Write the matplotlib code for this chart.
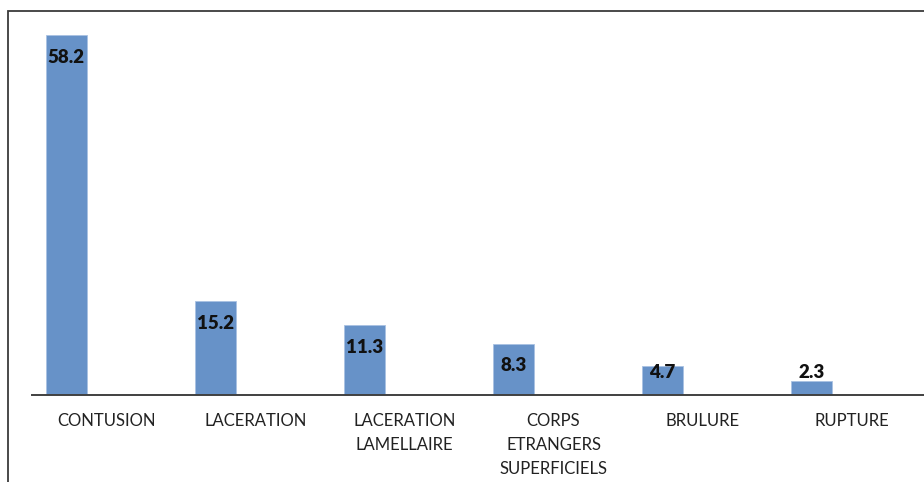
import matplotlib.pyplot as plt
from matplotlib.patches import Rectangle

categories = ["CONTUSION", "LACERATION", "LACERATION\nLAMELLAIRE",
              "CORPS\nETRANGERS\nSUPERFICIELS", "BRULURE", "RUPTURE"]
values = [58.2, 15.2, 11.3, 8.3, 4.7, 2.3]

W, H = 924, 482
fig = plt.figure(figsize=(W / 100, H / 100), dpi=100)

# outer frame (only left and top edges are visible in the crop)
fig.patches.append(Rectangle((8 / W, -0.1), 1.2, 1 - 11 / H + 0.1,
                             transform=fig.transFigure, fill=False,
                             edgecolor="#3a3a3a", linewidth=1.3))

ax = fig.add_axes([32 / W, 1 - 395 / H, 1 - 32 / W, (395 - 24) / H])
x = list(range(len(categories)))
bar_x = [i - 0.27 for i in x]
ax.bar(bar_x, values, width=0.275, color="#6792c8", edgecolor="#a9c1e2", linewidth=0.6)

ax.set_xlim(-0.5, 5.5 - 2 / 149)
ax.set_ylim(0, 60)
ax.set_xticks(x)
ax.set_xticklabels(categories, fontsize=12, family="Lato", color="#222222",
                   linespacing=1.62, va="top")
ax.tick_params(axis="x", length=0, pad=13)
ax.set_yticks([])
for s in ["top", "right", "left"]:
    ax.spines[s].set_visible(False)
ax.spines["bottom"].set_color("#404040")
ax.spines["bottom"].set_linewidth(1.4)

for bx, v in zip(bar_x, values):
    ax.text(bx, max(v - 3.6, 3.6), f"{v}", ha="center", va="center",
            fontsize=13.5, fontweight="heavy", family="Lato", color="#111111")

fig.savefig("out.png", dpi=100)
